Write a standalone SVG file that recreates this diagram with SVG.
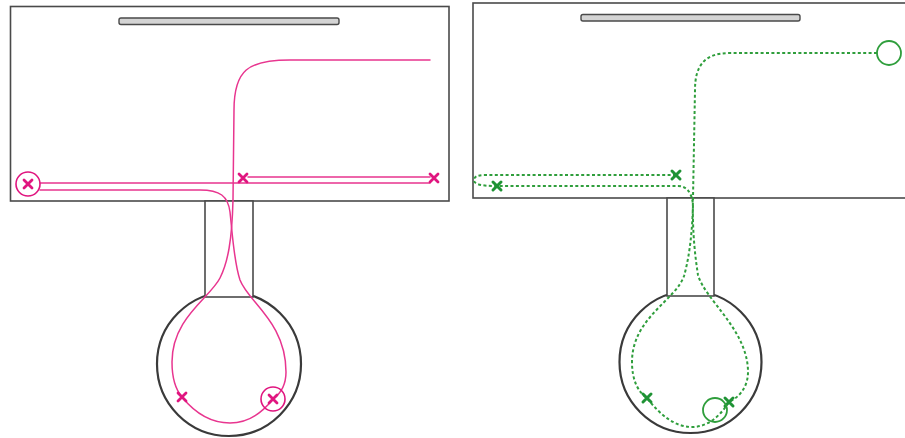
<svg xmlns="http://www.w3.org/2000/svg" width="905" height="438" viewBox="0 0 905 438">
  <style>
    .wall { fill: #fff; stroke: #4a4a4a; stroke-width: 1.6; }
    .round { fill: #fff; stroke: #3a3a3a; stroke-width: 2.2; }
    .bar { fill: #d4d4d4; stroke: #4a4a4a; stroke-width: 1.4; }
    .pink { fill: none; stroke: #e8358f; stroke-width: 1.5; stroke-linecap: round; }
    .pinkx { fill: none; stroke: #e0157f; stroke-width: 2.8; stroke-linecap: round; }
    .green { fill: none; stroke: #2f9e3c; stroke-width: 2; stroke-dasharray: 3 2.4; }
    .greenx { fill: none; stroke: #1f9335; stroke-width: 3; stroke-linecap: round; }
    .ring-p { fill: none; stroke: #e0157f; stroke-width: 1.6; }
    .ring-g { fill: none; stroke: #2f9e3c; stroke-width: 1.8; }
  </style>
  <defs>
    <path id="xmark" d="M-4,-4 L4,4 M4,-4 L-4,4"/>
  </defs>

  <!-- left layout: room, corridor, round chamber -->
  <g id="room-left">
    <rect class="wall" x="10.5" y="6.5" width="438.5" height="194.5"/>
    <rect class="bar" x="119" y="18" width="220" height="6.5" rx="2"/>
    <circle class="round" cx="229" cy="364" r="72"/>
    <rect class="wall" x="205" y="201" width="48" height="96"/>
  </g>

  <!-- right layout -->
  <g id="room-right">
    <rect class="wall" x="473" y="3" width="445" height="195"/>
    <rect class="bar" x="581" y="14.5" width="219" height="6.5" rx="2"/>
    <circle class="round" cx="690.5" cy="362" r="71"/>
    <rect class="wall" x="667" y="198" width="47" height="98"/>
  </g>

  <!-- routes -->
  <g id="connectors">
    <!-- pink, solid -->
    <path class="pink" d="M40,183 H430"/>
    <path class="pink" d="M248,177 H430"/>
    <path class="pink" d="M40,190 H200 C220,190 228,196 230,212 C233,240 234,262 240,280 C248,302 286,322 286,372 C286,385 280,394 273,399"/>
    <path class="pink" d="M430,60 H290 C248,60 234,70 234,110 L233,200 C232,240 228,262 220,278 C210,298 172,318 172,362 C172,378 176,390 182,397 C195,413 212,423 230,423 C248,423 262,413 273,399"/>

    <!-- green, dashed -->
    <path class="green" d="M877,53 H730 C705,53 695,65 695,90 L693,198 C692,235 696,262 698,275 C705,300 748,330 748,372 C748,388 738,398 729,402"/>
    <path class="green" d="M676,175 H485 C477,175 474,177 474,180 C474,184 480,186 497,186 H678 C686,186 692,192 693,205 C692,240 688,262 684,276 C676,300 632,318 632,362 C632,380 638,392 647,398 C660,415 675,427 692,427 C710,427 722,413 729,402"/>
  </g>

  <g id="markers-pink">
    <circle class="ring-p" cx="28" cy="184" r="12"/>
    <use href="#xmark" class="pinkx" x="28" y="184"/>
    <use href="#xmark" class="pinkx" x="243" y="178"/>
    <use href="#xmark" class="pinkx" x="434" y="178"/>
    <use href="#xmark" class="pinkx" x="182" y="397"/>
    <circle class="ring-p" cx="273" cy="399" r="12"/>
    <use href="#xmark" class="pinkx" x="273" y="399"/>
  </g>

  <g id="markers-green">
    <circle class="ring-g" cx="889" cy="53" r="12"/>
    <use href="#xmark" class="greenx" x="676" y="175"/>
    <use href="#xmark" class="greenx" x="497" y="186"/>
    <use href="#xmark" class="greenx" x="647" y="398"/>
    <use href="#xmark" class="greenx" x="729" y="402"/>
    <circle class="ring-g" cx="715" cy="410" r="12"/>
  </g>
</svg>
